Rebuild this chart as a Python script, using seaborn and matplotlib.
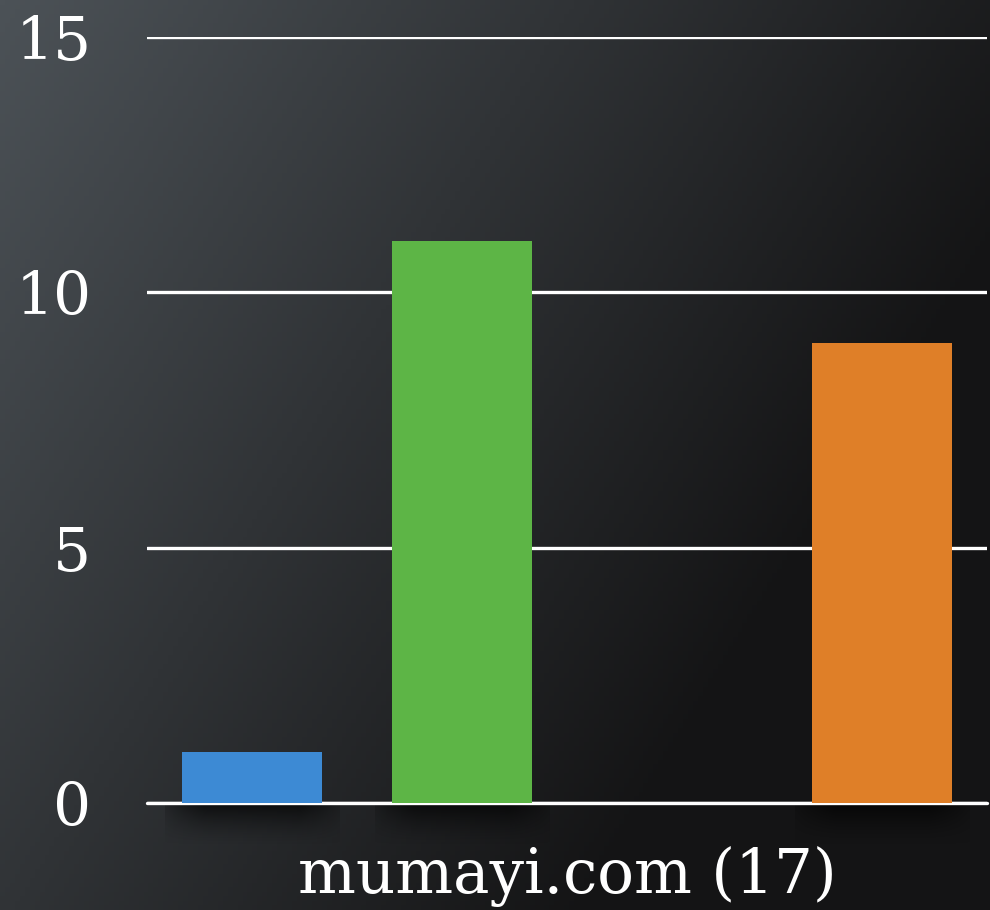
import numpy as np
import pandas as pd
import matplotlib
matplotlib.use("Agg")
import matplotlib.pyplot as plt
import seaborn as sns

group = ["mumayi.com (17)"]
series = ["Series A", "Series B", "Series C", "Series D"]
values = [1, 11, 0, 9]
colors = ["#3d8ad4", "#5db546", "#e6c229", "#df7f28"]
yticks = [0, 5, 10, 15]

df = pd.DataFrame({"site": group * len(series), "series": series, "value": values})

sns.set_theme(style="white")
plt.rcParams["font.family"] = ["DejaVu Serif", "DejaVu Sans"]

fig = plt.figure(figsize=(9.9, 9.1), dpi=100)

# gradient background
bg = fig.add_axes([0, 0, 1, 1], zorder=-10)
yy, xx = np.mgrid[0:1:200j, 0:1:200j]
t = np.clip(0.86 * xx + 0.49 * yy, 0, 1)
top = np.array([0x4c, 0x52, 0x57]) / 255.0
bot = np.array([0x14, 0x14, 0x15]) / 255.0
img = top[None, None, :] * (1 - t[..., None]) + bot[None, None, :] * t[..., None]
bg.imshow(img, aspect="auto", extent=[0, 1, 0, 1], origin="upper")
bg.axis("off")

ax = fig.add_axes([0.1485, 0.1176, 0.8485, 0.8417])
ax.patch.set_alpha(0)

sns.barplot(data=df, x="site", y="value", hue="series", palette=colors,
            width=1.0, gap=0.33, dodge=True, legend=False, ax=ax, zorder=3,
            saturation=1, linewidth=0)

ax.set_xlim(-0.5, 0.5)
ax.set_ylim(0, 15)

# soft shadows below the baseline under each visible bar
shade = np.zeros((40, 60, 4))
vy = np.linspace(1, 0, 40)[:, None]
vx = np.linspace(-1, 1, 60)[None, :]
shade[..., 3] = 0.7 * vy ** 1.5 * np.clip(1.3 - np.abs(vx) ** 2, 0, 1)
for p in ax.patches:
    if p.get_height() > 0:
        x0 = p.get_x() - 0.02
        x1 = p.get_x() + p.get_width() + 0.02
        ax.imshow(shade, extent=[x0, x1, -0.85, 0], aspect="auto",
                  clip_on=False, zorder=0, interpolation="bilinear")
ax.set_xlim(-0.5, 0.5)
ax.set_ylim(0, 15)

ax.set_yticks(yticks)
ax.yaxis.grid(True, color="white", linewidth=2.4, zorder=1)
ax.set_axisbelow(True)
for s in ax.spines.values():
    s.set_visible(False)
ax.tick_params(axis="y", length=0, pad=40, labelsize=43, labelcolor="white")
ax.tick_params(axis="x", length=0, pad=31, labelsize=44, labelcolor="white")
ax.set_xlabel("")
ax.set_ylabel("")
ax.axhline(0, color="white", linewidth=2.4, zorder=2, clip_on=False)

fig.savefig("out.png", dpi=100)
